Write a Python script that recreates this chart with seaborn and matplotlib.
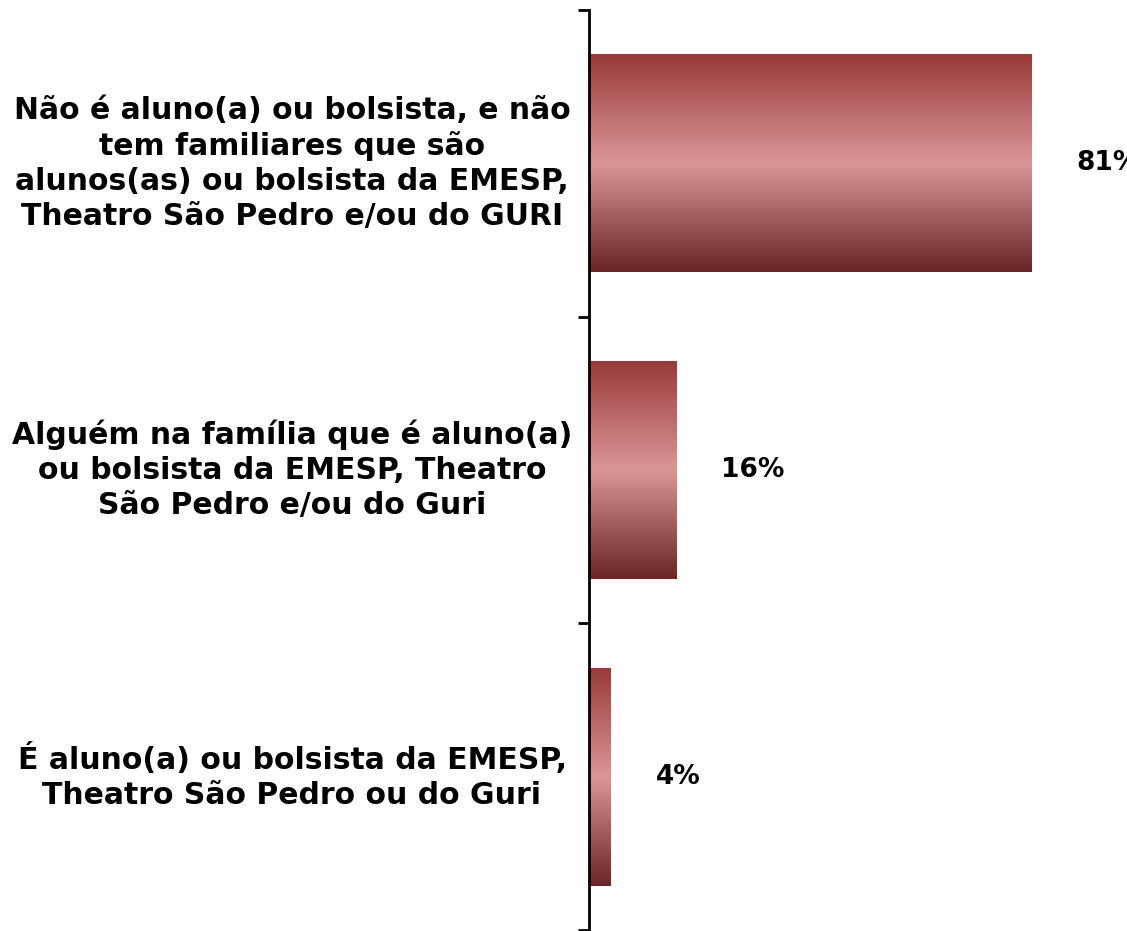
import numpy as np
import pandas as pd
import matplotlib
matplotlib.use("Agg")
import matplotlib.pyplot as plt
import seaborn as sns
from matplotlib.colors import LinearSegmentedColormap

categories = [
    "Não é aluno(a) ou bolsista, e não\ntem familiares que são\nalunos(as) ou bolsista da EMESP,\nTheatro São Pedro e/ou do GURI",
    "Alguém na família que é aluno(a)\nou bolsista da EMESP, Theatro\nSão Pedro e/ou do Guri",
    "É aluno(a) ou bolsista da EMESP,\nTheatro São Pedro ou do Guri",
]
values = [81, 16, 4]
value_labels = ["81%", "16%", "4%"]

sns.set_style("white")
plt.rcParams["font.family"] = ["DejaVu Sans"]

W, H = 1127, 931
fig = plt.figure(figsize=(W / 100, H / 100), dpi=100)
ax_left = 589 / W
ax_right = 1081 / W
ax_top = 1 - 10 / H
ax_bottom = 1 - 930 / H
ax = fig.add_axes([ax_left, ax_bottom, ax_right - ax_left, ax_top - ax_bottom])

df = pd.DataFrame({"cat": categories, "val": values})
sns.barplot(data=df, x="val", y="cat", orient="h", width=0.71, ax=ax,
            color="#983838", saturation=1)

ax.set_xlim(0, 90)
ax.set_ylim(len(values) - 0.5, -0.5)

grad = LinearSegmentedColormap.from_list(
    "g", [(0.0, "#9a3a3a"), (0.5, "#da9696"), (1.0, "#6a2626")])
gvals = np.linspace(0, 1, 256).reshape(-1, 1)
for p in ax.patches:
    x0, y0 = p.get_x(), p.get_y()
    w, h = p.get_width(), p.get_height()
    ax.imshow(gvals, cmap=grad, aspect="auto",
              extent=[x0, x0 + w, y0 + h, y0], zorder=2, interpolation="bilinear")
    p.set_facecolor("none")
    p.set_edgecolor("none")

ax.set_xlim(0, 90)
ax.set_ylim(len(values) - 0.5, -0.5)

for i, (v, lab) in enumerate(zip(values, value_labels)):
    ax.annotate(lab, xy=(v, i), xytext=(45, 0), textcoords="offset pixels",
                ha="left", va="center", fontsize=19, fontweight="bold",
                color="black", annotation_clip=False)

for i, cat in enumerate(categories):
    ydisp = ax.transData.transform((0, i))[1]
    fig.text(292 / W, ydisp / H, cat, ha="center", va="center",
             fontsize=21.5, fontweight="bold", color="black", linespacing=1.25)

for s in ["top", "right", "bottom"]:
    ax.spines[s].set_visible(False)
ax.spines["left"].set_linewidth(2)
ax.spines["left"].set_color("black")
ax.set_xticks([])
ax.set_yticks([-0.5, 0.5, 1.5, 2.5])
ax.set_yticklabels([])
ax.tick_params(axis="y", direction="out", length=8, width=2, color="black", left=True)
ax.set_xlabel("")
ax.set_ylabel("")

fig.savefig("out.png", dpi=100)
